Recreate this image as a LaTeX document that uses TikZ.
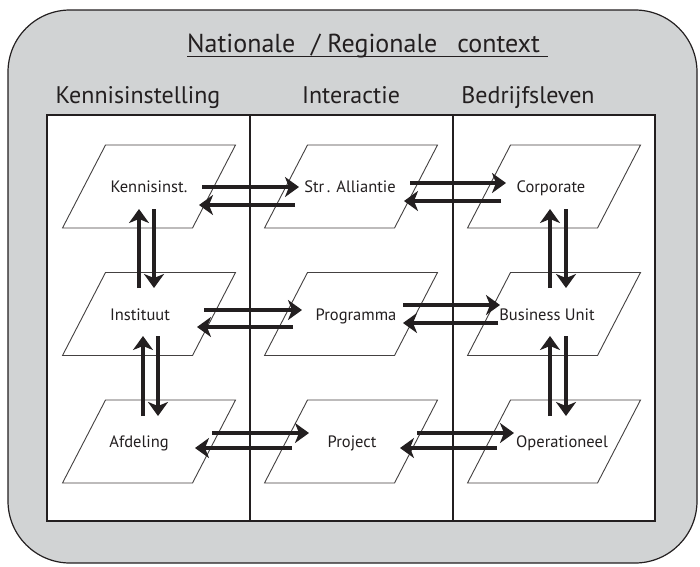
\documentclass[tikz,border=0pt]{standalone}
\usepackage{fontspec}
\setmainfont{PT Sans}
\usetikzlibrary{arrows.meta}
\definecolor{panel}{HTML}{D1D3D4}
\definecolor{ink}{HTML}{231F20}

\begin{document}
\begin{tikzpicture}[x=1pt,y=-1pt,
  outer/.style={draw=ink, line width=1.2pt, fill=panel, rounded corners=62pt},
  board/.style={draw=ink, line width=2.5pt, fill=white},
  divider/.style={draw=ink, line width=2pt},
  parabox/.style={draw=ink!85, line width=0.9pt},
  lab/.style={font=\fontsize{16.5}{18}\selectfont, text=ink, inner sep=0pt, anchor=base},
  head/.style={font=\fontsize{24}{27}\selectfont, text=ink, inner sep=0pt, anchor=base},
  flow/.style={draw=ink, line width=4pt, -{Stealth[length=14pt,width=20pt,inset=4pt]}},
  cellpt/.style={inner sep=0pt, minimum size=0pt}
]
\useasboundingbox (0,0) rectangle (700,566);

% background panel and the three-column board
\path[outer] (8,10) rectangle (697,563);
\path[board] (47,115) rectangle (655,521);
\coordinate (d1t) at (250,115); \coordinate (d1b) at (250,521);
\coordinate (d2t) at (453,115); \coordinate (d2b) at (453,521);
\draw[divider] (d1t) -- (d1b);
\draw[divider] (d2t) -- (d2b);

% title and column headers
\node[head, anchor=base west, font=\fontsize{26}{29}\selectfont] (title) at (187,52.3)
  {Nationale\hspace{16pt}/ Regionale\hspace{20pt}context};
\draw[ink, line width=0.9pt] ([shift={(0,4)}]title.base west) -- ([shift={(8,4)}]title.base east);
\node[head] (h1) at (138,103) {Kennisinstelling};
\node[head] (h2) at (351,103) {Interactie};
\node[head] (h3) at (528,103) {Bedrijfsleven};

% cell centres
\node[cellpt] (k1) at (149,186.5) {};
\node[cellpt] (s1) at (351,186.5) {};
\node[cellpt] (c1) at (554,186.5) {};
\node[cellpt] (i2) at (149,314) {};
\node[cellpt] (p2) at (351,314) {};
\node[cellpt] (b2) at (554,314) {};
\node[cellpt] (a3) at (149,441.5) {};
\node[cellpt] (pr3) at (351,441.5) {};
\node[cellpt] (o3) at (554,441.5) {};

% parallelogram outlines
\foreach \c in {k1,s1,c1,i2,p2,b2,a3,pr3,o3}{
  \draw[parabox] (\c.center) ++(-43.5,-41.5) -- ++(130,0) -- ++(-43,83) -- ++(-130,0) -- cycle;
}

% cell labels
\node[lab] (tk1) at (149,192) {Kennisinst.};
\node[lab] (ts1) at (350,192) {Str\,. Alliantie};
\node[lab] (tc1) at (551,192) {Corporate};
\node[lab] (ti2) at (140,320) {Instituut};
\node[lab] (tp2) at (356,320) {Programma};
\node[lab] (tb2) at (547,320) {Business Unit};
\node[lab] (ta3) at (139,447) {Afdeling};
\node[lab] (tpr3) at (352,447) {Project};
\node[lab] (to3) at (562,447) {Operationeel};

% horizontal exchanges
\draw[flow] ([shift={(53,0.5)}]k1.center) -- ([shift={(-52,0.5)}]s1.center);
\draw[flow] ([shift={(-56,18.5)}]s1.center) -- ([shift={(50,18.5)}]k1.center);
\draw[flow] ([shift={(59,-3.5)}]s1.center) -- ([shift={(-48,-3.5)}]c1.center);
\draw[flow] ([shift={(-53,14.5)}]c1.center) -- ([shift={(53,14.5)}]s1.center);

\draw[flow] ([shift={(55,-4)}]i2.center) -- ([shift={(-49,-4)}]p2.center);
\draw[flow] ([shift={(-58,13)}]p2.center) -- ([shift={(48,13)}]i2.center);
\draw[flow] ([shift={(52,-9)}]p2.center) -- ([shift={(-54,-9)}]b2.center);
\draw[flow] ([shift={(-56,9)}]b2.center) -- ([shift={(52,9)}]p2.center);

\draw[flow] ([shift={(63,-8.5)}]a3.center) -- ([shift={(-42,-8.5)}]pr3.center);
\draw[flow] ([shift={(-59,6.5)}]pr3.center) -- ([shift={(46,6.5)}]a3.center);
\draw[flow] ([shift={(66,-8.5)}]pr3.center) -- ([shift={(-40,-8.5)}]o3.center);
\draw[flow] ([shift={(-57,6.5)}]o3.center) -- ([shift={(49,6.5)}]pr3.center);

% vertical exchanges
\draw[flow] ([shift={(-10,-26)}]i2.center) -- ([shift={(-10,22.5)}]k1.center);
\draw[flow] ([shift={(5,22.5)}]k1.center) -- ([shift={(5,-26)}]i2.center);
\draw[flow] ([shift={(-6,-25.5)}]a3.center) -- ([shift={(-6,22)}]i2.center);
\draw[flow] ([shift={(9,22)}]i2.center) -- ([shift={(9,-25.5)}]a3.center);

\draw[flow] ([shift={(-4,-26)}]b2.center) -- ([shift={(-4,22.5)}]c1.center);
\draw[flow] ([shift={(12,22.5)}]c1.center) -- ([shift={(12,-26)}]b2.center);
\draw[flow] ([shift={(-4,-25.5)}]o3.center) -- ([shift={(-4,22)}]b2.center);
\draw[flow] ([shift={(12,22)}]b2.center) -- ([shift={(12,-25.5)}]o3.center);
\end{tikzpicture}
\end{document}
